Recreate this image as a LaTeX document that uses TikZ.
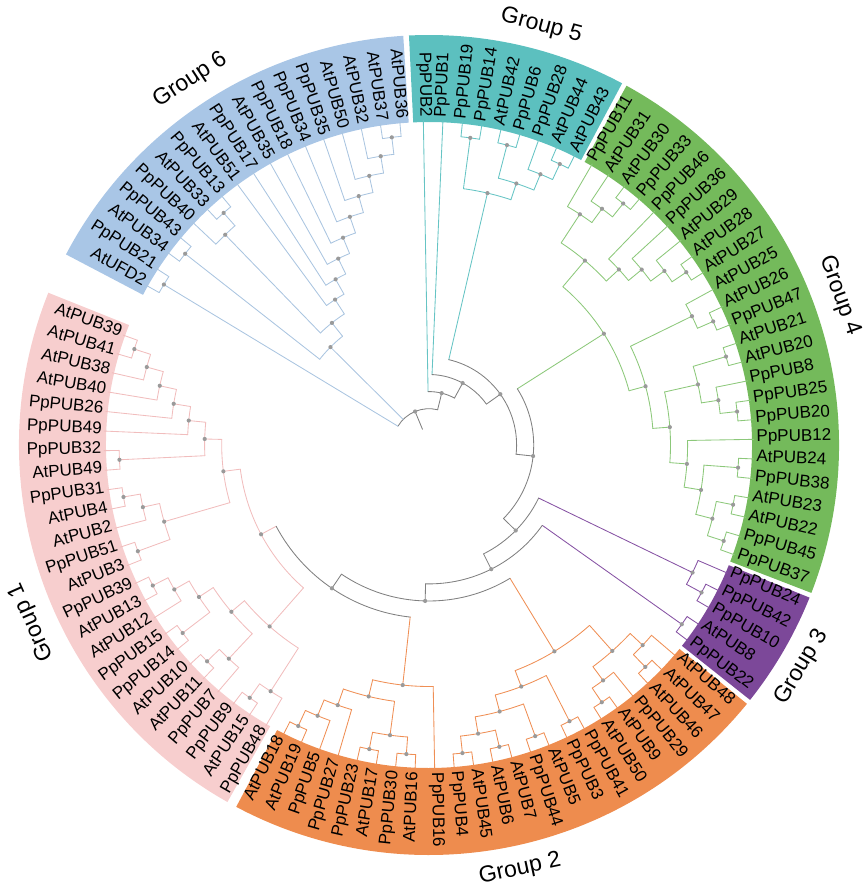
\documentclass[tikz,border=0pt]{standalone}
\usepackage{fontspec}
\setmainfont{Liberation Sans}
\pgfdeclarelayer{fg}
\pgfsetlayers{main,fg}
\definecolor{b1}{HTML}{F7CECE}
\definecolor{b2}{HTML}{EE8C4E}
\definecolor{b3}{HTML}{7C4899}
\definecolor{b4}{HTML}{74BA5B}
\definecolor{b5}{HTML}{5CC0BF}
\definecolor{b6}{HTML}{A9C6E6}
\definecolor{c1}{HTML}{F1BDBD}
\definecolor{c2}{HTML}{EF8F55}
\definecolor{c3}{HTML}{8652A3}
\definecolor{c4}{HTML}{8CC87A}
\definecolor{c5}{HTML}{66C4C4}
\definecolor{c6}{HTML}{AAC5E0}
\definecolor{cg}{HTML}{808080}
\definecolor{dotc}{HTML}{9A9A9A}

\newcommand\mkleaf[4]{%
  \pgfmathsetmacro\tzla{#2}%
  \expandafter\xdef\csname ang@#1\endcsname{\tzla}%
  \expandafter\xdef\csname col@#1\endcsname{#4}%
  \coordinate (#1) at (\tzla:325pt);%
  \pgfmathtruncatemacro\tzflip{or(\tzla>90,\tzla<-90)}%
  \ifnum\tzflip=1
    \pgfmathsetmacro\tzrot{\tzla+180}%
    \node[leaflabel,anchor=mid east,rotate=\tzrot] (#1-t) at (\tzla:327.5pt) {#3};%
  \else
    \node[leaflabel,anchor=mid west,rotate=\tzla] (#1-t) at (\tzla:327.5pt) {#3};%
  \fi
}
\newcommand\leafA[3]{\mkleaf{L#1}{91-3.4615*#1}{#2}{#3}}
\newcommand\leafG[2]{\mkleaf{M#1}{91.7+3.4615*#1}{#2}{c6}}
\newcommand\tnode[5]{%
  \edef\tzca{\csname ang@#3\endcsname}%
  \edef\tzcb{\csname ang@#4\endcsname}%
  \edef\tzcola{\csname col@#3\endcsname}%
  \edef\tzcolb{\csname col@#4\endcsname}%
  \pgfmathsetmacro\tzna{(\tzca+\tzcb)/2}%
  \pgfmathsetmacro\tznr{327-17.1*#2}%
  \expandafter\xdef\csname ang@#1\endcsname{\tzna}%
  \expandafter\xdef\csname col@#1\endcsname{#5}%
  \coordinate (#1) at (\tzna:\tznr pt);%
  \coordinate (#1-a) at (\tzca:\tznr pt);%
  \coordinate (#1-b) at (\tzcb:\tznr pt);%
  \draw[tline,draw=\tzcola] (#1-a) -- (#3);%
  \draw[tline,draw=\tzcolb] (#1-b) -- (#4);%
  \draw[tline,draw=#5] (#1) arc[start angle=\tzna,end angle=\tzca,radius=\tznr pt];%
  \draw[tline,draw=#5] (#1) arc[start angle=\tzna,end angle=\tzcb,radius=\tznr pt];%
  \begin{pgfonlayer}{fg}\fill[dotc] (#1) circle[radius=2.1pt];\end{pgfonlayer}%
}
\newcommand\grpband[3]{%
  \fill[#3] (#1:323pt) arc[start angle=#1,end angle=#2,radius=323pt]
    -- (#2:410pt) arc[start angle=#2,end angle=#1,radius=410pt] -- cycle;}

\begin{document}
\begin{tikzpicture}[
  tline/.style={line width=0.85pt,line cap=round},
  leaflabel/.style={font=\fontsize{17pt}{17pt}\selectfont,inner sep=0pt,text=black},
  grouplabel/.style={font=\fontsize{23pt}{23pt}\selectfont,inner sep=0pt,text=black}]
\useasboundingbox (-429pt,-443pt) rectangle (436pt,445pt);

% bands
\grpband{61.9}{92.8}{b5}
\grpband{-21.15}{61.2}{b4}
\grpband{-38.45}{-21.85}{b3}
\grpband{-118.05}{-39.15}{b2}
\grpband{-201.8}{-119.45}{b1}
\grpband{93.6}{152.3}{b6}

% group labels
\node[grouplabel,rotate=-15] (gl5) at (75:434pt) {Group 5};
\node[grouplabel,rotate=33.2] (gl6) at (123.2:436pt) {Group 6};
\node[grouplabel,rotate=-70] (gl4) at (20:437pt) {Group 4};
\node[grouplabel,rotate=59.2] (gl3) at (-30.8:434pt) {Group 3};
\node[grouplabel,rotate=12.1] (gl2) at (-77.9:434pt) {Group 2};
\node[grouplabel,rotate=114] (gl1) at (204:435pt) {Group 1};

% leaves
\leafA{0}{PpPUB2}{c5}
\leafA{1}{PpPUB1}{c5}
\leafA{2}{PpPUB19}{c5}
\leafA{3}{PpPUB14}{c5}
\leafA{4}{AtPUB42}{c5}
\leafA{5}{PpPUB6}{c5}
\leafA{6}{PpPUB28}{c5}
\leafA{7}{AtPUB44}{c5}
\leafA{8}{AtPUB43}{c5}
\leafA{9}{PpPUB11}{c4}
\leafA{10}{AtPUB31}{c4}
\leafA{11}{AtPUB30}{c4}
\leafA{12}{PpPUB33}{c4}
\leafA{13}{PpPUB46}{c4}
\leafA{14}{PpPUB36}{c4}
\leafA{15}{AtPUB29}{c4}
\leafA{16}{AtPUB28}{c4}
\leafA{17}{AtPUB27}{c4}
\leafA{18}{AtPUB25}{c4}
\leafA{19}{AtPUB26}{c4}
\leafA{20}{PpPUB47}{c4}
\leafA{21}{AtPUB21}{c4}
\leafA{22}{AtPUB20}{c4}
\leafA{23}{PpPUB8}{c4}
\leafA{24}{PpPUB25}{c4}
\leafA{25}{PpPUB20}{c4}
\leafA{26}{PpPUB12}{c4}
\leafA{27}{AtPUB24}{c4}
\leafA{28}{PpPUB38}{c4}
\leafA{29}{AtPUB23}{c4}
\leafA{30}{AtPUB22}{c4}
\leafA{31}{PpPUB45}{c4}
\leafA{32}{PpPUB37}{c4}
\leafA{33}{PpPUB24}{c3}
\leafA{34}{PpPUB42}{c3}
\leafA{35}{PpPUB10}{c3}
\leafA{36}{AtPUB8}{c3}
\leafA{37}{PpPUB22}{c3}
\leafA{38}{AtPUB48}{c2}
\leafA{39}{AtPUB47}{c2}
\leafA{40}{AtPUB46}{c2}
\leafA{41}{PpPUB29}{c2}
\leafA{42}{AtPUB9}{c2}
\leafA{43}{AtPUB50}{c2}
\leafA{44}{PpPUB41}{c2}
\leafA{45}{PpPUB3}{c2}
\leafA{46}{AtPUB5}{c2}
\leafA{47}{PpPUB44}{c2}
\leafA{48}{AtPUB7}{c2}
\leafA{49}{AtPUB6}{c2}
\leafA{50}{AtPUB45}{c2}
\leafA{51}{PpPUB4}{c2}
\leafA{52}{PpPUB16}{c2}
\leafA{53}{AtPUB16}{c2}
\leafA{54}{PpPUB30}{c2}
\leafA{55}{AtPUB17}{c2}
\leafA{56}{PpPUB23}{c2}
\leafA{57}{PpPUB27}{c2}
\leafA{58}{PpPUB5}{c2}
\leafA{59}{AtPUB19}{c2}
\leafA{60}{AtPUB18}{c2}
\leafA{61}{PpPUB48}{c1}
\leafA{62}{AtPUB15}{c1}
\leafA{63}{PpPUB9}{c1}
\leafA{64}{PpPUB7}{c1}
\leafA{65}{AtPUB11}{c1}
\leafA{66}{AtPUB10}{c1}
\leafA{67}{PpPUB14}{c1}
\leafA{68}{PpPUB15}{c1}
\leafA{69}{AtPUB12}{c1}
\leafA{70}{AtPUB13}{c1}
\leafA{71}{PpPUB39}{c1}
\leafA{72}{AtPUB3}{c1}
\leafA{73}{PpPUB51}{c1}
\leafA{74}{AtPUB2}{c1}
\leafA{75}{AtPUB4}{c1}
\leafA{76}{PpPUB31}{c1}
\leafA{77}{AtPUB49}{c1}
\leafA{78}{PpPUB32}{c1}
\leafA{79}{PpPUB49}{c1}
\leafA{80}{PpPUB26}{c1}
\leafA{81}{AtPUB40}{c1}
\leafA{82}{AtPUB38}{c1}
\leafA{83}{AtPUB41}{c1}
\leafA{84}{AtPUB39}{c1}
\leafG{1}{AtPUB36}
\leafG{2}{AtPUB37}
\leafG{3}{AtPUB32}
\leafG{4}{AtPUB50}
\leafG{5}{PpPUB35}
\leafG{6}{PpPUB34}
\leafG{7}{PpPUB18}
\leafG{8}{AtPUB35}
\leafG{9}{PpPUB17}
\leafG{10}{AtPUB51}
\leafG{11}{PpPUB13}
\leafG{12}{AtPUB33}
\leafG{13}{PpPUB40}
\leafG{14}{PpPUB43}
\leafG{15}{AtPUB34}
\leafG{16}{PpPUB21}
\leafG{17}{AtUFD2}

% group 5
\tnode{ta}{1}{L2}{L3}{c5}
\tnode{tb}{1}{L4}{L5}{c5}
\tnode{tc}{1}{L7}{L8}{c5}
\tnode{td}{2}{L6}{tc}{c5}
\tnode{te}{3}{tb}{td}{c5}
\tnode{tf}{4}{ta}{te}{c5}
% group 4
\tnode{k1}{1}{L11}{L12}{c4}
\tnode{k2}{2}{L10}{k1}{c4}
\tnode{k3}{3}{L9}{k2}{c4}
\tnode{k4}{1}{L16}{L17}{c4}
\tnode{k5}{2}{L15}{k4}{c4}
\tnode{k6}{3}{L14}{k5}{c4}
\tnode{k7}{4}{L13}{k6}{c4}
\tnode{k8}{5}{k3}{k7}{c4}
\tnode{m1}{1}{L19}{L20}{c4}
\tnode{m2}{2}{L18}{m1}{c4}
\tnode{m3}{1}{L21}{L22}{c4}
\tnode{m5}{1}{L24}{L25}{c4}
\tnode{m6}{2}{L23}{m5}{c4}
\tnode{m7}{3}{m3}{m6}{c4}
\tnode{n1}{1}{L27}{L28}{c4}
\tnode{n2}{1}{L29}{L30}{c4}
\tnode{n3}{1}{L31}{L32}{c4}
\tnode{n4}{2}{n2}{n3}{c4}
\tnode{n5}{3}{n1}{n4}{c4}
\tnode{n6}{4}{L26}{n5}{c4}
\tnode{n7}{5}{m7}{n6}{c4}
\tnode{k9}{6}{m2}{n7}{c4}
\tnode{G4R}{7}{k8}{k9}{c4}
% group 3
\tnode{pp}{1}{L34}{L35}{c3}
\tnode{p1}{2}{L33}{pp}{c3}
\tnode{p2}{1}{L36}{L37}{c3}
% group 2
\tnode{oU}{1}{L39}{L40}{c2}
\tnode{oS}{2}{L38}{oU}{c2}
\tnode{oV}{1}{L42}{L43}{c2}
\tnode{oT}{2}{L41}{oV}{c2}
\tnode{oR}{3}{oS}{oT}{c2}
\tnode{oW}{1}{L44}{L45}{c2}
\tnode{oZ}{1}{L46}{L47}{c2}
\tnode{oY2}{1}{L48}{L49}{c2}
\tnode{oY1}{1}{L50}{L51}{c2}
\tnode{oY}{2}{oY2}{oY1}{c2}
\tnode{oX}{3}{oZ}{oY}{c2}
\tnode{oQ}{4}{oW}{oX}{c2}
\tnode{oP}{5}{oR}{oQ}{c2}
\tnode{oH}{1}{L53}{L54}{c2}
\tnode{oG}{1}{L55}{L56}{c2}
\tnode{oD}{2}{oH}{oG}{c2}
\tnode{oF}{1}{L59}{L60}{c2}
\tnode{oE}{2}{L58}{oF}{c2}
\tnode{oC}{3}{L57}{oE}{c2}
\tnode{oB}{4}{oD}{oC}{c2}
\tnode{oA}{5}{L52}{oB}{c2}
% group 1
\tnode{qs}{1}{L62}{L63}{c1}
\tnode{qt}{2}{L61}{qs}{c1}
\tnode{qp}{1}{L65}{L66}{c1}
\tnode{qq}{2}{L64}{qp}{c1}
\tnode{qn}{1}{L67}{L68}{c1}
\tnode{ql}{1}{L70}{L71}{c1}
\tnode{qm}{2}{L69}{ql}{c1}
\tnode{qo}{3}{qn}{qm}{c1}
\tnode{qr}{4}{qq}{qo}{c1}
\tnode{LP}{5}{qt}{qr}{c1}
\tnode{qk}{1}{L72}{L73}{c1}
\tnode{qj}{1}{L75}{L76}{c1}
\tnode{qi}{2}{L74}{qj}{c1}
\tnode{qh}{3}{qk}{qi}{c1}
\tnode{qf}{1}{L77}{L78}{c1}
\tnode{qa}{1}{L83}{L84}{c1}
\tnode{qb}{2}{L82}{qa}{c1}
\tnode{qc}{3}{L81}{qb}{c1}
\tnode{qd}{4}{L80}{qc}{c1}
\tnode{qe}{5}{L79}{qd}{c1}
\tnode{qg}{6}{qf}{qe}{c1}
\tnode{UP}{7}{qh}{qg}{c1}
\tnode{G1R}{8}{LP}{UP}{c1}
% backbone
\tnode{N8}{9}{oA}{G1R}{cg}
\tnode{N7}{10}{oP}{N8}{cg}
\tnode{N6}{11}{p2}{N7}{cg}
\tnode{N5}{12}{p1}{N6}{cg}
\tnode{N4}{13}{G4R}{N5}{cg}
\tnode{N3}{14}{tf}{N4}{cg}
\tnode{N2}{15}{L1}{N3}{cg}
\tnode{N1}{16}{L0}{N2}{cg}
% group 6
\tnode{h1}{1}{M1}{M2}{c6}
\tnode{h2}{2}{M3}{h1}{c6}
\tnode{h3}{3}{M4}{h2}{c6}
\tnode{h4}{4}{M5}{h3}{c6}
\tnode{h5}{5}{M6}{h4}{c6}
\tnode{h6}{6}{M7}{h5}{c6}
\tnode{h7}{7}{M8}{h6}{c6}
\tnode{h8}{8}{M9}{h7}{c6}
\tnode{h9}{9}{M10}{h8}{c6}
\tnode{h10}{1}{M11}{M12}{c6}
\tnode{h11}{2}{M13}{h10}{c6}
\tnode{h14}{10}{h9}{h11}{c6}
\tnode{h12}{1}{M14}{M15}{c6}
\tnode{h15}{11}{h14}{h12}{c6}
\tnode{h13}{1}{M16}{M17}{c6}

% root (three children)
\edef\tzra{\csname ang@h13\endcsname}
\edef\tzrb{\csname ang@N1\endcsname}
\edef\tzrc{\csname ang@h15\endcsname}
\pgfmathsetmacro\tzrt{(\tzra+\tzrb)/2}
\pgfmathsetmacro\tzrr{327-17.1*17}
\coordinate (root) at (\tzrt:\tzrr pt);
\coordinate (root-a) at (\tzra:\tzrr pt);
\coordinate (root-b) at (\tzrb:\tzrr pt);
\coordinate (root-c) at (\tzrc:\tzrr pt);
\coordinate (rootstub) at (\tzrt:17pt);
\draw[tline,draw=cg] (root) arc[start angle=\tzrt,end angle=\tzra,radius=\tzrr pt];
\draw[tline,draw=cg] (root) arc[start angle=\tzrt,end angle=\tzrb,radius=\tzrr pt];
\draw[tline,draw=c6] (root-a) -- (h13);
\draw[tline,draw=c6] (root-c) -- (h15);
\draw[tline,draw=cg] (root-b) -- (N1);
\draw[tline,draw=cg] (root) -- (rootstub);
\begin{pgfonlayer}{fg}\fill[dotc] (root) circle[radius=2.1pt];\end{pgfonlayer}
\end{tikzpicture}
\end{document}
